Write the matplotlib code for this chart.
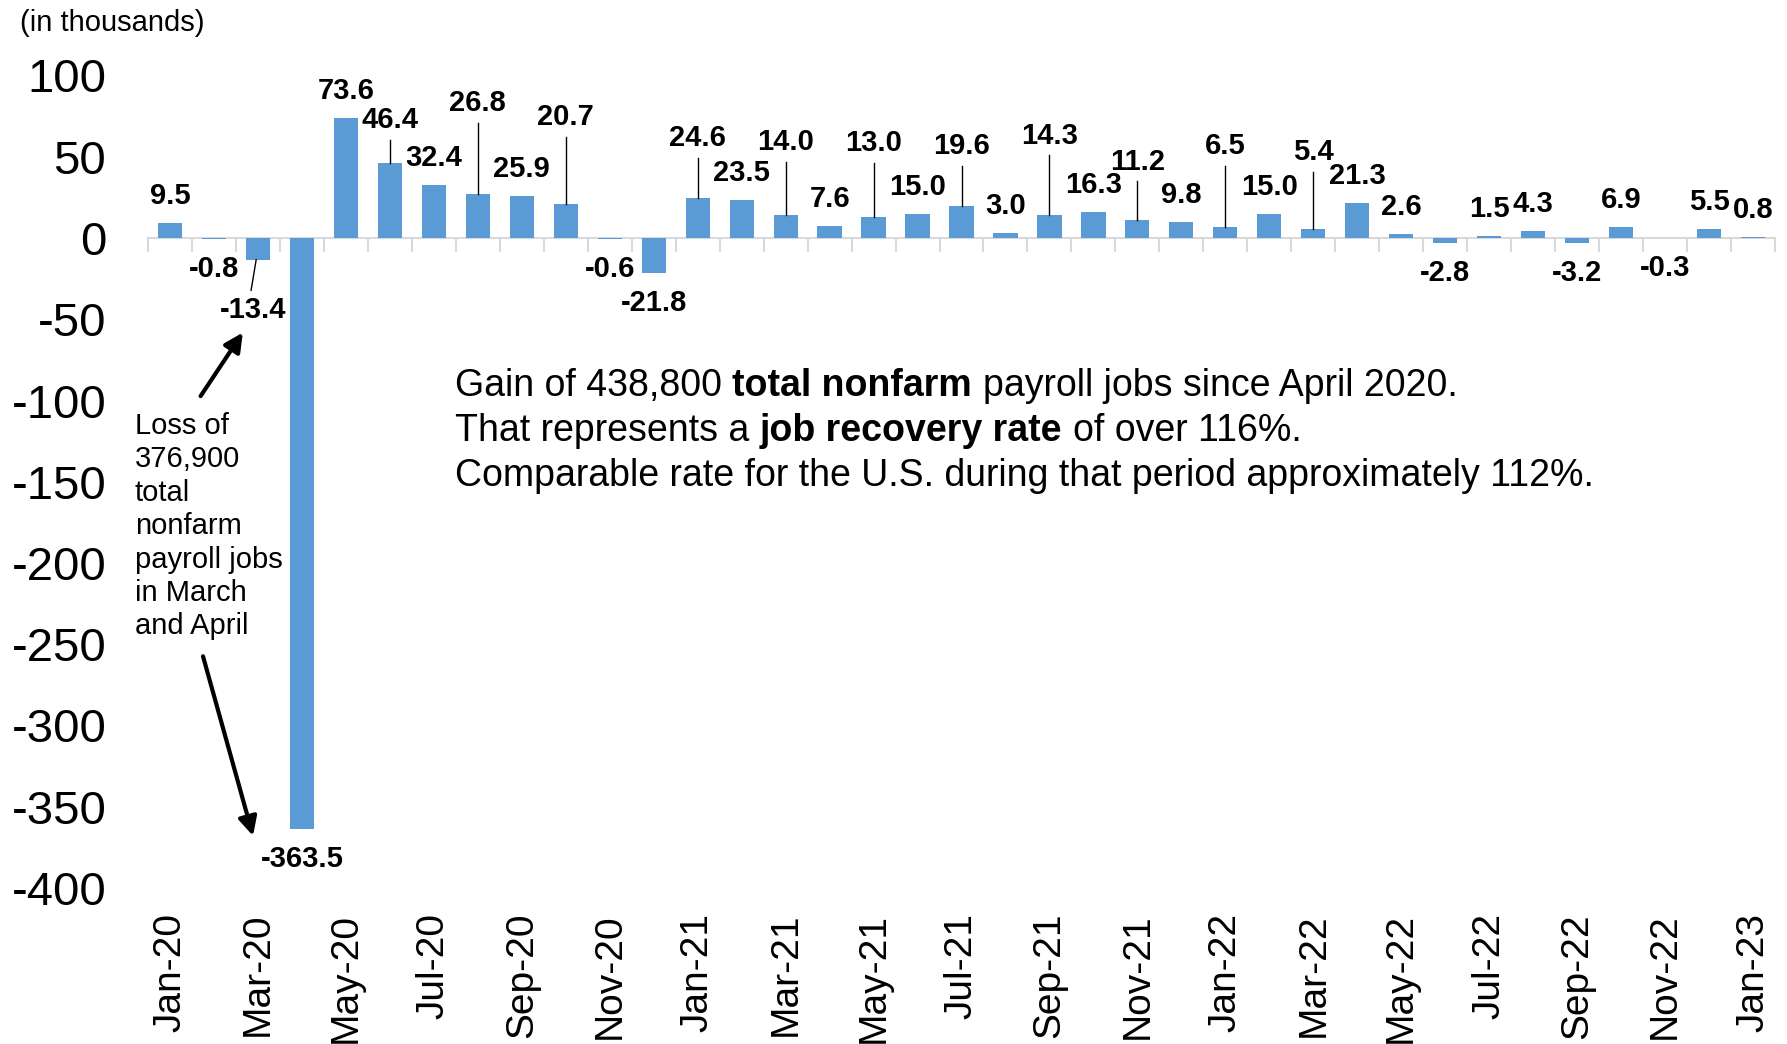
import matplotlib
matplotlib.use('Agg')
import matplotlib.pyplot as plt
import numpy as np

plt.rcParams['font.family'] = ['Liberation Sans', 'DejaVu Sans']
plt.rcParams['axes.unicode_minus'] = False

# monthly change in total nonfarm payroll jobs (thousands)
months = ['Jan-20', 'Feb-20', 'Mar-20', 'Apr-20', 'May-20', 'Jun-20', 'Jul-20', 'Aug-20',
          'Sep-20', 'Oct-20', 'Nov-20', 'Dec-20', 'Jan-21', 'Feb-21', 'Mar-21', 'Apr-21',
          'May-21', 'Jun-21', 'Jul-21', 'Aug-21', 'Sep-21', 'Oct-21', 'Nov-21', 'Dec-21',
          'Jan-22', 'Feb-22', 'Mar-22', 'Apr-22', 'May-22', 'Jun-22', 'Jul-22', 'Aug-22',
          'Sep-22', 'Oct-22', 'Nov-22', 'Dec-22', 'Jan-23']
jobs_change = [9.5, -0.8, -13.4, -363.5, 73.6, 46.4, 32.4, 26.8,
               25.9, 20.7, -0.6, -21.8, 24.6, 23.5, 14.0, 7.6,
               13.0, 15.0, 19.6, 3.0, 14.3, 16.3, 11.2, 9.8,
               6.5, 15.0, 5.4, 21.3, 2.6, -2.8, 1.5, 4.3,
               -3.2, 6.9, -0.3, 5.5, 0.8]

# labels pulled away from their bar with a leader line: index -> (x shift, label y)
leader_pos = {2: (-0.12, -44.2), 5: (0, 72.4), 7: (0, 82.8), 9: (0, 74.2),
              12: (0, 61.3), 14: (0, 58.9), 16: (0, 58.3), 18: (0, 56.6),
              20: (0, 62.8), 22: (0, 46.8), 24: (0, 56.6), 26: (0, 52.9)}

W, H = 1787, 1044
fig = plt.figure(figsize=(W / 100, H / 100), dpi=100)
ax = fig.add_axes([148 / W, 1 - 888 / H, (1775 - 148) / W, (888 - 75.5) / H])

x = np.arange(len(months))
ax.bar(x, jobs_change, width=0.55, color='#5B9BD5', zorder=3)
ax.set_xlim(-0.5, len(months) - 0.5)
ax.set_ylim(-400, 100)

ax.set_yticks(np.arange(-400, 101, 50))
ax.tick_params(axis='y', length=0, labelsize=34, pad=30)
for s in ['left', 'top', 'right']:
    ax.spines[s].set_visible(False)
ax.spines['bottom'].set_position(('data', 0))
ax.spines['bottom'].set_color('#D9D9D9')
ax.spines['bottom'].set_linewidth(1.5)
ax.set_xticks(np.arange(-0.5, len(months), 1))
ax.tick_params(axis='x', length=10, width=1.5, color='#D9D9D9', labelbottom=False)

sec = ax.secondary_xaxis('bottom')
sec.set_xticks(x[::2], labels=months[::2])
sec.tick_params(length=0, labelsize=28, pad=18, labelrotation=90)
sec.spines['bottom'].set_visible(False)

# data labels
for i, v in enumerate(jobs_change):
    txt = f'{v:.1f}'
    if i in leader_pos:
        dx, ly = leader_pos[i]
        end = ly - 12 if v > 0 else ly + 12
        ax.plot([i - (0.04 if dx else 0), i + dx * 1.3], [v, end], color='black', lw=1, zorder=4)
        ax.text(i + dx, ly, txt, ha='center', va='center', fontsize=21, fontweight='bold')
    else:
        off = 27 if v > 0 else -30
        ax.annotate(txt, (i, v), xytext=(0, off), textcoords='offset pixels',
                    ha='center', va='center', fontsize=21, fontweight='bold')

# loss note with arrows
arrow = dict(arrowstyle='-|>', color='black', lw=3, mutation_scale=28, shrinkA=0, shrinkB=0)
ax.annotate('', xy=(1.656, -58.2), xytext=(0.696, -97.3), arrowprops=arrow)
ax.annotate('', xy=(1.888, -367.9), xytext=(0.751, -257.4), arrowprops=arrow)
loss_lines = ['Loss of', '376,900', 'total', 'nonfarm', 'payroll jobs', 'in March', 'and April']
for k, line in enumerate(loss_lines):
    ax.text(-0.796, -120.4 - k * 20.6, line, fontsize=21, va='baseline', ha='left')


def rich_line(x0, y0, parts, size):
    prev = None
    for text, bold in parts:
        w = 'bold' if bold else 'normal'
        if prev is None:
            prev = ax.text(x0, y0, text, fontsize=size, fontweight=w, va='baseline', ha='left')
        else:
            prev = ax.annotate(text, xy=(1, 0), xycoords=prev, xytext=(0.278 * size, 0),
                               textcoords='offset points', fontsize=size, fontweight=w,
                               va='bottom', ha='left')


rich_line(6.48, -97.5, [('Gain of 438,800', False), ('total nonfarm', True),
                        ('payroll jobs since April 2020.', False)], 27)
rich_line(6.48, -125.1, [('That represents a', False), ('job recovery rate', True),
                         ('of over 116%.', False)], 27)
rich_line(6.48, -152.7, [('Comparable rate for the U.S. during that period approximately 112%.', False)], 27)

fig.text(20 / W, 1 - 23 / H, '(in thousands)', fontsize=21, va='center', ha='left')

fig.savefig('out.png', dpi=100)
